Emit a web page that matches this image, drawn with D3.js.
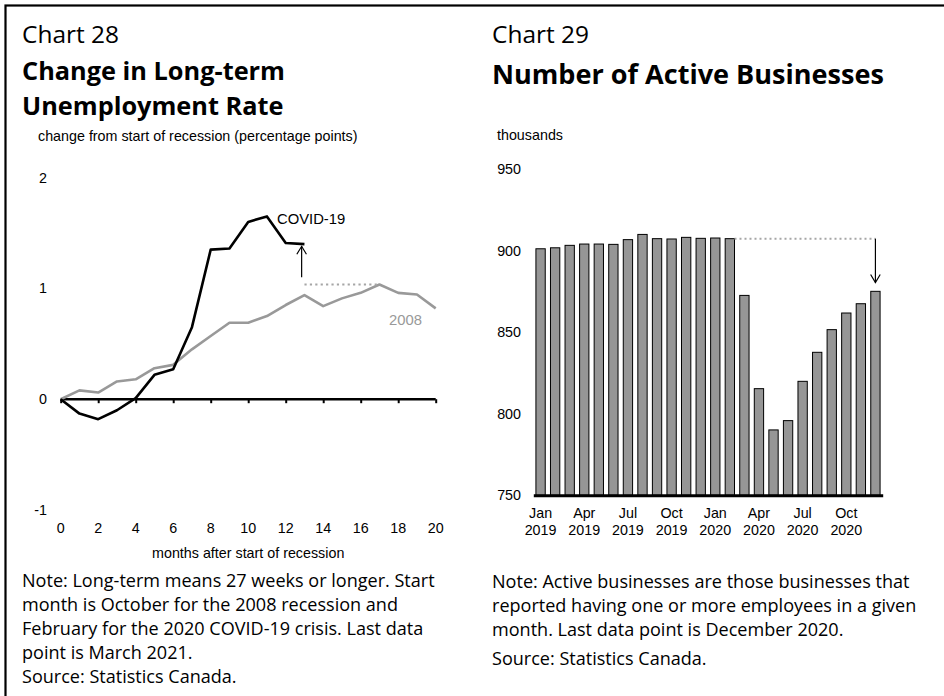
<!DOCTYPE html>
<html><head><meta charset="utf-8">
<script src="https://cdn.jsdelivr.net/npm/d3@7/dist/d3.min.js"></script>
<style>
html,body{margin:0;padding:0;background:#fff;}
svg{display:block;}
</style></head>
<body>
<script>
// ---------- data ----------
const monthsAfter = [0,1,2,3,4,5,6,7,8,9,10,11,12,13,14,15,16,17,18,19,20];
const covid = [0,-0.13,-0.18,-0.10,0.01,0.22,0.27,0.65,1.35,1.36,1.60,1.65,1.41,1.40];
const rec2008 = [0,0.08,0.06,0.16,0.18,0.28,0.31,0.45,0.57,0.69,0.69,0.75,0.85,0.94,0.84,0.91,0.96,1.035,0.96,0.945,0.82];
const leftYTicks = [-1,0,1,2];
const leftXTicks = [0,2,4,6,8,10,12,14,16,18,20];
const leftDotted = {from:13, to:17, value:1.035};
const leftArrow = {x:12.85, from:1.10, to:1.38};

const monthKeys = ["2019-01","2019-02","2019-03","2019-04","2019-05","2019-06","2019-07","2019-08","2019-09","2019-10","2019-11","2019-12",
                   "2020-01","2020-02","2020-03","2020-04","2020-05","2020-06","2020-07","2020-08","2020-09","2020-10","2020-11","2020-12"];
const businesses = [901.2,901.8,903.3,904.1,904.1,903.9,906.8,910.0,907.4,907.2,908.2,907.6,
                    907.8,907.4,872.6,815.4,790.1,795.8,819.9,837.7,851.6,861.8,867.5,875.1];
const rightTickKeys = ["2019-01","2019-04","2019-07","2019-10","2020-01","2020-04","2020-07","2020-10"];
const rightTickLabels = [["Jan","2019"],["Apr","2019"],["Jul","2019"],["Oct","2019"],["Jan","2020"],["Apr","2020"],["Jul","2020"],["Oct","2020"]];
const rightYTicks = [750,800,850,900,950];
const rightDotted = {from:"2020-02", to:"2020-12", value:907.4};
const rightArrow = {key:"2020-12", from:907.4, to:880.5};

const leftNote = ["Note: Long-term means 27 weeks or longer. Start","month is October for the 2008 recession and","February for the 2020 COVID-19 crisis. Last data","point is March 2021."];
const rightNote = ["Note: Active businesses are those businesses that","reported having one or more employees in a given","month. Last data point is December 2020."];
const sourceText = "Source: Statistics Canada.";

// ---------- setup ----------
const W = 944, H = 696;
const svg = d3.select("body").append("svg").attr("width",W).attr("height",H);
const TITLE_FONT = "'Open Sans','Noto Sans',sans-serif";
const AX_FONT = "'Liberation Sans',Arial,sans-serif";
const AX_SIZE = 14.3;

// frame
svg.append("rect").attr("x",5.5).attr("y",5.5).attr("width",W+20).attr("height",H+20)
  .attr("fill","none").attr("stroke","#000").attr("stroke-width",2.2);

function fitText(sel, target){
  const n = sel.node();
  const fs = parseFloat(sel.attr("font-size"));
  const w = n.getComputedTextLength();
  if (w>0) sel.attr("font-size", (fs*target/w).toFixed(2));
  return parseFloat(sel.attr("font-size"));
}

// ---------- headers ----------
function txt(x,y,s,size,weight){
  return svg.append("text").attr("x",x).attr("y",y).attr("font-family",TITLE_FONT)
    .attr("font-size",size).attr("font-weight",weight||400).attr("fill","#000").text(s);
}
fitText(txt(22,43,"Chart 28",25), 97);
fitText(txt(492,43,"Chart 29",25), 97);
const fsT = fitText(txt(22,80,"Change in Long-term",24,700), 263);
txt(22,115,"Unemployment Rate",fsT,700);
fitText(txt(492,84,"Number of Active Businesses",24,700), 392);

// ---------- notes ----------
function note(x, lines, baselines, srcY){
  const g = svg.append("g");
  lines.forEach((l,i)=>{
    g.append("text").attr("x",x).attr("y",baselines[i]).attr("font-family",TITLE_FONT)
      .attr("font-size",16).attr("fill","#000").text(l);
  });
  g.append("text").attr("x",x).attr("y",srcY).attr("font-family",TITLE_FONT)
      .attr("font-size",16).attr("fill","#000").text(sourceText);
  return g;
}
const gl = note(22, leftNote, [587,611,635,659], 683);
const gr = note(492, rightNote, [588,612,636], 665);
{
  const first = gl.select("text");
  const fs = fitText(first, 413);
  gl.selectAll("text").attr("font-size",fs);
  gr.selectAll("text").attr("font-size",fs);
}

// ---------- left chart ----------
const xL = d3.scaleLinear().domain([0,20]).range([60.7,435.7]);
const yL = d3.scaleLinear().domain([-1,2]).range([510,177.6]);

svg.append("text").attr("x",38).attr("y",141).attr("font-family",AX_FONT).attr("font-size",AX_SIZE)
  .text("change from start of recession (percentage points)");

svg.append("g").selectAll("text").data(leftYTicks).join("text")
  .attr("x",47).attr("y",d=>yL(d)).attr("dy","0.35em").attr("text-anchor","end")
  .attr("font-family",AX_FONT).attr("font-size",AX_SIZE).text(d=>d);

svg.append("g").selectAll("text").data(leftXTicks).join("text")
  .attr("x",d=>xL(d)).attr("y",yL(-1)+18).attr("dy","0.35em").attr("text-anchor","middle")
  .attr("font-family",AX_FONT).attr("font-size",AX_SIZE).text(d=>d);

svg.append("text").attr("x",(xL(0)+xL(20))/2).attr("y",yL(-1)+43).attr("dy","0.35em").attr("text-anchor","middle")
  .attr("font-family",AX_FONT).attr("font-size",AX_SIZE).text("months after start of recession");

// axis at zero
const axL = svg.append("g").attr("transform",`translate(0,${yL(0)})`)
  .call(d3.axisBottom(xL).tickValues(leftXTicks).tickSize(4).tickFormat(""));
axL.select(".domain").attr("stroke","#000").attr("stroke-width",2.5).attr("d",`M${xL(0)},0H${xL(20)}`);
axL.selectAll(".tick line").attr("stroke","#000").attr("stroke-width",2);

const line = d3.line().x((d,i)=>xL(monthsAfter[i])).y(d=>yL(d));
svg.append("path").datum(rec2008).attr("d",line).attr("fill","none").attr("stroke","#999999").attr("stroke-width",2.6).attr("stroke-linejoin","round");
svg.append("path").datum(covid).attr("d",line).attr("fill","none").attr("stroke","#000").attr("stroke-width",2.6).attr("stroke-linejoin","round");

svg.append("line").attr("x1",xL(leftDotted.from)).attr("x2",xL(leftDotted.to))
  .attr("y1",yL(leftDotted.value)).attr("y2",yL(leftDotted.value))
  .attr("stroke","#a6a6a6").attr("stroke-width",2.2).attr("stroke-dasharray","2.2,3.2");

function arrow(x, y1, y2){
  svg.append("line").attr("x1",x).attr("x2",x).attr("y1",y1).attr("y2",y2).attr("stroke","#000").attr("stroke-width",1.2);
  const dir = y2<y1 ? 1 : -1;
  svg.append("path").attr("d",`M${x-4.8},${y2+dir*8}L${x},${y2}L${x+4.8},${y2+dir*8}`)
    .attr("fill","none").attr("stroke","#000").attr("stroke-width",1.2);
}
arrow(xL(leftArrow.x), yL(leftArrow.from), yL(leftArrow.to));

svg.append("text").attr("x",277).attr("y",218.5).attr("dy","0.35em").attr("font-family",AX_FONT).attr("font-size",14.8).attr("fill","#000").text("COVID-19");
svg.append("text").attr("x",389).attr("y",319.5).attr("dy","0.35em").attr("font-family",AX_FONT).attr("font-size",14.8).attr("fill","#999999").text("2008");

// ---------- right chart ----------
const xR = d3.scaleBand().domain(monthKeys).range([533.3,882.7]).paddingInner(0.36).paddingOuter(0.18);
const yR = d3.scaleLinear().domain([750,950]).range([495.3,169.2]);

svg.append("text").attr("x",497).attr("y",140).attr("font-family",AX_FONT).attr("font-size",AX_SIZE).text("thousands");

svg.append("g").selectAll("text").data(rightYTicks).join("text")
  .attr("x",521).attr("y",d=>yR(d)).attr("dy","0.35em").attr("text-anchor","end")
  .attr("font-family",AX_FONT).attr("font-size",AX_SIZE).text(d=>d);

svg.append("g").selectAll("rect").data(businesses).join("rect")
  .attr("x",(d,i)=>xR(monthKeys[i])).attr("width",xR.bandwidth())
  .attr("y",d=>yR(d)).attr("height",d=>yR(750)-yR(d))
  .attr("fill","#969696").attr("stroke","#000").attr("stroke-width",1);

const axR = svg.append("g").attr("transform",`translate(0,${yR(750)})`)
  .call(d3.axisBottom(xR).tickValues([]).tickSize(0));
axR.select(".domain").attr("stroke","#000").attr("stroke-width",3);

const tg = svg.append("g").selectAll("text").data(rightTickKeys).join("text")
  .attr("x",d=>xR(d)+xR.bandwidth()/2).attr("text-anchor","middle")
  .attr("font-family",AX_FONT).attr("font-size",AX_SIZE);
tg.append("tspan").attr("x",d=>xR(d)+xR.bandwidth()/2).attr("y",yR(750)+18).attr("dy","0.35em").text((d,i)=>rightTickLabels[i][0]);
tg.append("tspan").attr("x",d=>xR(d)+xR.bandwidth()/2).attr("y",yR(750)+35).attr("dy","0.35em").text((d,i)=>rightTickLabels[i][1]);

svg.append("line").attr("x1",xR(rightDotted.from)+xR.bandwidth()).attr("x2",xR(rightDotted.to)+xR.bandwidth()/2)
  .attr("y1",yR(rightDotted.value)).attr("y2",yR(rightDotted.value))
  .attr("stroke","#a6a6a6").attr("stroke-width",2).attr("stroke-dasharray","2,3");
arrow(xR(rightArrow.key)+xR.bandwidth()/2, yR(rightArrow.from), yR(rightArrow.to));
</script>
</body></html>
